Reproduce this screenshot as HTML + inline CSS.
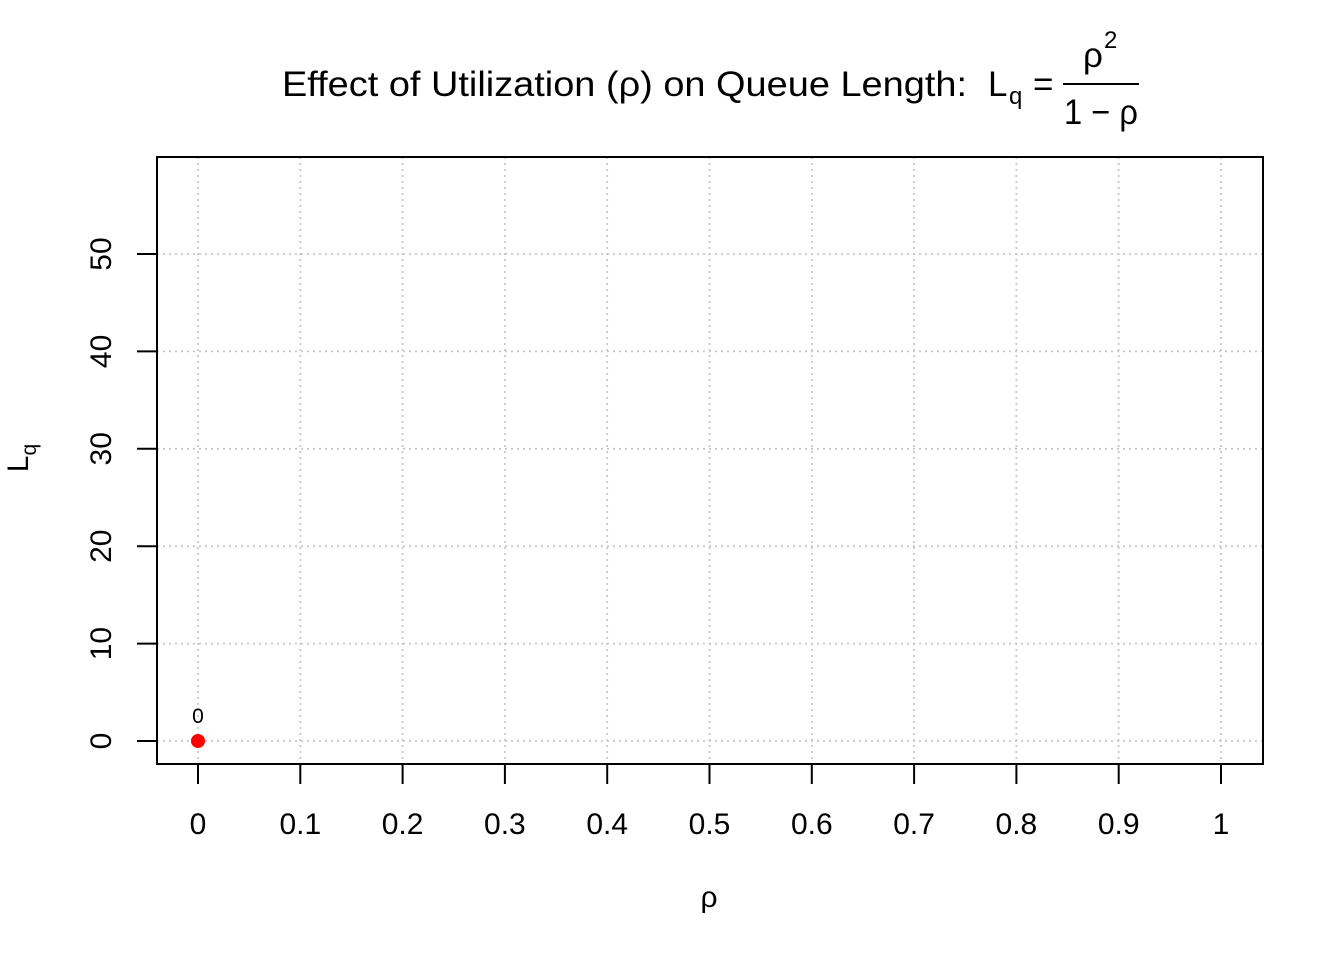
<!DOCTYPE html>
<html><head><meta charset="utf-8"><style>
body{margin:0;background:#fff}
svg text{font-family:"Liberation Sans",Arial,sans-serif;fill:#000}
</style></head><body>
<svg id="chart" width="1344" height="960" xmlns="http://www.w3.org/2000/svg">
<g>
<text x="282" y="96" font-size="35" textLength="685" lengthAdjust="spacingAndGlyphs">Effect of Utilization (ρ) on Queue Length:</text>
<text x="988" y="96" font-size="35">L</text>
<text x="1009" y="104" font-size="24">q</text>
<text x="1033" y="96" font-size="35">=</text>
<text x="1083" y="67" font-size="35">ρ</text>
<text x="1104" y="48" font-size="24">2</text>
<line x1="1063" y1="84" x2="1139" y2="84" stroke="#000" stroke-width="2"/>
<text x="1064" y="124" font-size="35" textLength="74" lengthAdjust="spacingAndGlyphs">1 − ρ</text>
</g>
<g id="grid"></g>
<rect x="157" y="157" width="1106" height="607" fill="none" stroke="#000" stroke-width="2"/>
<g id="axes"></g>
<g id="marks"></g>
<text x="709" y="907" font-size="30" text-anchor="middle" font-family="Liberation Serif">ρ</text>
<g transform="translate(28,458) rotate(-90)">
<text x="0" y="0" font-size="30" text-anchor="middle">L<tspan font-size="21" dy="8">q</tspan></text>
</g>
</svg>
<script>
const xTicks=[0,0.1,0.2,0.3,0.4,0.5,0.6,0.7,0.8,0.9,1];
const xTickLabels=["0","0.1","0.2","0.3","0.4","0.5","0.6","0.7","0.8","0.9","1"];
const yTicks=[0,10,20,30,40,50];
const pointX=[0];
const pointY=[0];
const pointLabels=["0"];
const NS="http://www.w3.org/2000/svg";
const sx=v=>198+v*1023;
const sy=v=>741-v*9.74;
function mk(tag,attrs,parent,txt){const e=document.createElementNS(NS,tag);for(const k in attrs)e.setAttribute(k,attrs[k]);if(txt!==undefined)e.textContent=txt;parent.appendChild(e);return e;}
const grid=document.getElementById('grid'),axes=document.getElementById('axes'),marks=document.getElementById('marks');
xTicks.forEach((t,i)=>{
 const g=mk('line',{x1:sx(t),x2:sx(t),y1:157,y2:764,stroke:'#c8c8c8','stroke-width':1.8,'stroke-dasharray':'2,4'},grid);
 
 
 const tk=mk('line',{x1:sx(t),x2:sx(t),y1:764,y2:784,stroke:'#000','stroke-width':2},axes);
 
 
 const lb=mk('text',{x:sx(t),y:834,'font-size':30,'text-anchor':'middle'},axes,xTickLabels[i]);
 
 
});
yTicks.forEach(t=>{
 const g=mk('line',{x1:157,x2:1263,y1:sy(t),y2:sy(t),stroke:'#c8c8c8','stroke-width':1.8,'stroke-dasharray':'2,4'},grid);
 
 
 const tk=mk('line',{x1:137,x2:157,y1:sy(t),y2:sy(t),stroke:'#000','stroke-width':2},axes);
 
 
 const lb=mk('text',{x:0,y:0,'font-size':30,'text-anchor':'middle',transform:`translate(111,${sy(t)}) rotate(-90)`},axes,String(t));
 
 
});
pointX.forEach((x,i)=>{
 const c=mk('circle',{cx:sx(x),cy:sy(pointY[i]),r:7,fill:'#ff0000'},marks);
 
 
 const l=mk('text',{x:sx(x),y:sy(pointY[i])-18,'font-size':21,'text-anchor':'middle'},marks,pointLabels[i]);
 
 
});
</script>
</body></html>
